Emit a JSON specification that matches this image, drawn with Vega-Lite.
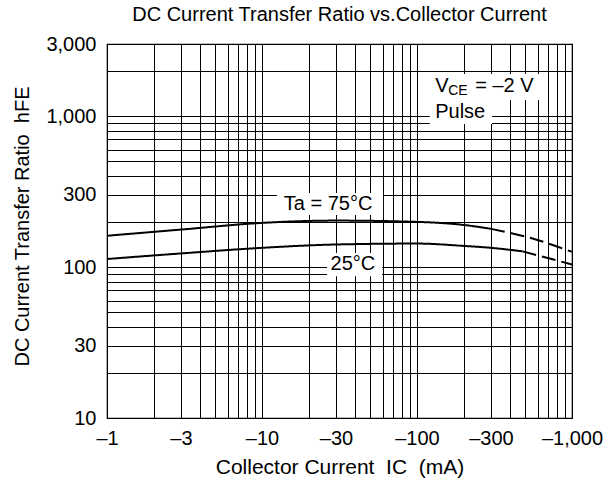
{
  "$schema": "https://vega.github.io/schema/vega-lite/v6.json",
  "width": 465,
  "height": 374,
  "autosize": {"type": "none"},
  "padding": {"left": 107, "top": 44, "right": 34, "bottom": 62},
  "background": "white",
  "title": {
    "text": "DC Current Transfer Ratio vs.Collector Current",
    "font": "Liberation Sans",
    "fontSize": 20,
    "fontWeight": "normal",
    "color": "#000",
    "offset": 9,
    "anchor": "middle"
  },
  "config": {
    "view": {"stroke": "#000", "strokeWidth": 1.2},
    "font": "Liberation Sans"
  },
  "datasets": {
    "curves": [
      {"ic": -1, "hfe": 161, "seg": "75s", "style": "solid"},
      {"ic": -3, "hfe": 177, "seg": "75s", "style": "solid"},
      {"ic": -10, "hfe": 196, "seg": "75s", "style": "solid"},
      {"ic": -30, "hfe": 203, "seg": "75s", "style": "solid"},
      {"ic": -100, "hfe": 199, "seg": "75s", "style": "solid"},
      {"ic": -200, "hfe": 190, "seg": "75s", "style": "solid"},
      {"ic": -300, "hfe": 179, "seg": "75s", "style": "solid"},
      {"ic": -300, "hfe": 179, "seg": "75d", "style": "dashed"},
      {"ic": -550, "hfe": 155, "seg": "75d", "style": "dashed"},
      {"ic": -1000, "hfe": 126, "seg": "75d", "style": "dashed"},
      {"ic": -1, "hfe": 113, "seg": "25s", "style": "solid"},
      {"ic": -3, "hfe": 123, "seg": "25s", "style": "solid"},
      {"ic": -10, "hfe": 134, "seg": "25s", "style": "solid"},
      {"ic": -30, "hfe": 141, "seg": "25s", "style": "solid"},
      {"ic": -100, "hfe": 143, "seg": "25s", "style": "solid"},
      {"ic": -200, "hfe": 138, "seg": "25s", "style": "solid"},
      {"ic": -300, "hfe": 134, "seg": "25s", "style": "solid"},
      {"ic": -480, "hfe": 127, "seg": "25s", "style": "solid"},
      {"ic": -480, "hfe": 127, "seg": "25d", "style": "dashed"},
      {"ic": -1000, "hfe": 104, "seg": "25d", "style": "dashed"}
    ],
    "boxes": [
      {"ic": -12.5, "ic2": -60.4, "hfe": 221, "hfe2": 309},
      {"ic": -26.3, "ic2": -59.5, "hfe": 87, "hfe2": 124},
      {"ic": -121, "ic2": -690, "hfe": 1276, "hfe2": 1897},
      {"ic": -121, "ic2": -305, "hfe": 885, "hfe2": 1276}
    ],
    "notes": [
      {"kind": "center", "text": "Ta = 75°C", "ic": -26.7, "hfe": 261},
      {"kind": "center", "text": "25°C", "ic": -38.6, "hfe": 105},
      {"kind": "left", "text": "V", "ic": -131, "hfe": 1581},
      {"kind": "left", "text": "Pulse", "ic": -131, "hfe": 1062},
      {"kind": "sub", "text": "CE", "ic": -131, "hfe": 1581},
      {"kind": "rest", "text": "= –2 V", "ic": -131, "hfe": 1581}
    ]
  },
  "encoding": {
    "x": {
      "field": "ic",
      "type": "quantitative",
      "scale": {"type": "log", "domain": [-1, -1000], "nice": false},
      "axis": {
        "title": "Collector Current\u00a0\u00a0IC\u00a0\u00a0(mA)",
        "values": [-1, -2, -3, -4, -5, -6, -7, -8, -9, -10, -20, -30, -40, -50, -60, -70, -80, -90, -100, -200, -300, -400, -500, -600, -700, -800, -900, -1000],
        "labelExpr": "indexof([-1,-3,-10,-30,-100,-300,-1000], datum.value) >= 0 ? '–' + format(-datum.value, ',') : ''",
        "grid": true,
        "gridColor": "#000",
        "gridWidth": 1,
        "gridOpacity": 1,
        "ticks": false,
        "domain": false,
        "labelFlush": false,
        "labelOverlap": false,
        "labelBound": false,
        "labelFont": "Liberation Sans",
        "labelFontSize": 20,
        "labelColor": "#000",
        "labelPadding": 10,
        "titleFont": "Liberation Sans",
        "titleFontSize": 21,
        "titleFontWeight": "normal",
        "titleColor": "#000",
        "titlePadding": 8
      }
    },
    "y": {
      "field": "hfe",
      "type": "quantitative",
      "scale": {"type": "log", "domain": [10, 3000], "nice": false},
      "axis": {
        "title": "DC Current Transfer Ratio\u00a0\u00a0hFE",
        "values": [10, 20, 30, 40, 50, 60, 70, 80, 90, 100, 200, 300, 400, 500, 600, 700, 800, 900, 1000, 2000, 3000],
        "labelExpr": "indexof([10,30,100,300,1000,3000], datum.value) >= 0 ? format(datum.value, ',') : ''",
        "grid": true,
        "gridColor": "#000",
        "gridWidth": 1,
        "gridOpacity": 1,
        "ticks": false,
        "domain": false,
        "labelFlush": false,
        "labelOverlap": false,
        "labelBound": false,
        "labelFont": "Liberation Sans",
        "labelFontSize": 20,
        "labelColor": "#000",
        "labelPadding": 11,
        "titleFont": "Liberation Sans",
        "titleFontSize": 20,
        "titleFontWeight": "normal",
        "titleColor": "#000",
        "titlePadding": 13,
        "titleY": 182
      }
    }
  },
  "layer": [
    {
      "data": {"name": "boxes"},
      "mark": {"type": "rect", "fill": "white", "stroke": null},
      "encoding": {
        "x2": {"field": "ic2"},
        "y2": {"field": "hfe2"}
      }
    },
    {
      "data": {"name": "curves"},
      "mark": {"type": "line", "color": "#000", "strokeWidth": 2, "interpolate": "monotone"},
      "encoding": {
        "detail": {"field": "seg", "type": "nominal"},
        "strokeDash": {
          "field": "style",
          "type": "nominal",
          "scale": {"domain": ["solid", "dashed"], "range": [[1, 0], [14, 6]]},
          "legend": null
        }
      }
    },
    {
      "data": {"name": "notes"},
      "transform": [{"filter": "datum.kind === 'center'"}],
      "mark": {"type": "text", "font": "Liberation Sans", "fontSize": 20, "color": "#000", "align": "center", "baseline": "middle"},
      "encoding": {"text": {"field": "text"}}
    },
    {
      "data": {"name": "notes"},
      "transform": [{"filter": "datum.kind === 'left'"}],
      "mark": {"type": "text", "font": "Liberation Sans", "fontSize": 20, "color": "#000", "align": "left", "baseline": "middle"},
      "encoding": {"text": {"field": "text"}}
    },
    {
      "data": {"name": "notes"},
      "transform": [{"filter": "datum.kind === 'sub'"}],
      "mark": {"type": "text", "font": "Liberation Sans", "fontSize": 14, "color": "#000", "align": "left", "baseline": "middle", "dx": 13, "dy": 5},
      "encoding": {"text": {"field": "text"}}
    },
    {
      "data": {"name": "notes"},
      "transform": [{"filter": "datum.kind === 'rest'"}],
      "mark": {"type": "text", "font": "Liberation Sans", "fontSize": 20, "color": "#000", "align": "left", "baseline": "middle", "dx": 40},
      "encoding": {"text": {"field": "text"}}
    }
  ]
}
